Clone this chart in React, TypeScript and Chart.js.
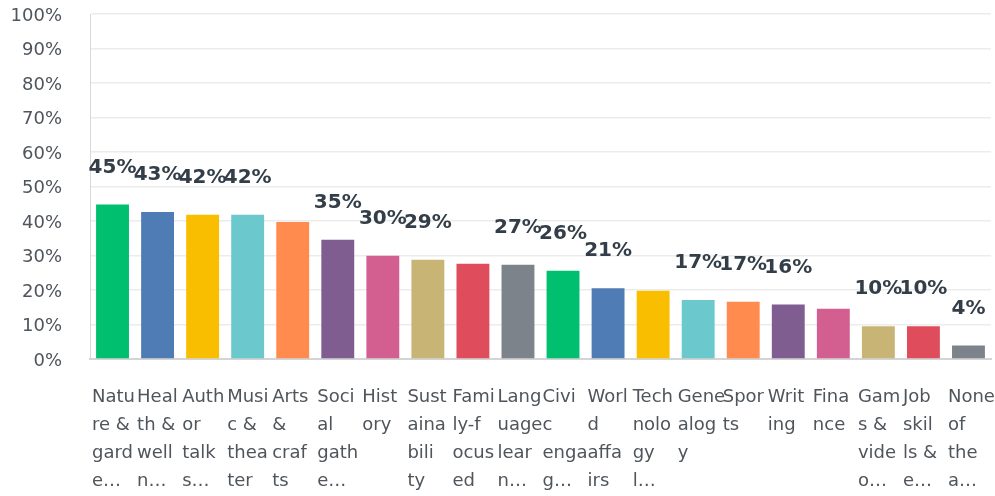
import React, { useEffect, useRef } from 'react';
import { Chart, registerables } from 'chart.js';

Chart.register(...registerables);

const categories = [
  'Nature & gardening', 'Health & wellness', 'Author talks', 'Music & theater', 'Arts & crafts',
  'Social gatherings', 'History', 'Sustainability', 'Family-focused', 'Language learning',
  'Civic engagement', 'World affairs', 'Technology l...', 'Genealogy', 'Sports',
  'Writing', 'Finance', 'Games & video...', 'Job skills & e...', 'None of the above',
];

const tickLines: string[][] = [
  ['Natu', 're &', 'gard', 'e…'],
  ['Heal', 'th &', 'well', 'n…'],
  ['Auth', 'or', 'talk', 's…'],
  ['Musi', 'c &', 'thea', 'ter'],
  ['Arts', '&', 'craf', 'ts'],
  ['Soci', 'al', 'gath', 'e…'],
  ['Hist', 'ory'],
  ['Sust', 'aina', 'bili', 'ty'],
  ['Fami', 'ly-f', 'ocus', 'ed'],
  ['Lang', 'uage', 'lear', 'n…'],
  ['Civi', 'c', 'enga', 'g…'],
  ['Worl', 'd', 'affa', 'irs'],
  ['Tech', 'nolo', 'gy', 'l…'],
  ['Gene', 'alog', 'y'],
  ['Spor', 'ts'],
  ['Writ', 'ing'],
  ['Fina', 'nce'],
  ['Gam', 's &', 'vide', 'o…'],
  ['Job', 'skil', 'ls &', 'e…'],
  ['None', 'of', 'the', 'a…'],
];

const values = [
  44.8, 42.6, 41.8, 41.8, 39.7, 34.6, 29.9, 28.8, 27.6, 27.3,
  25.6, 20.5, 19.8, 17.1, 16.6, 15.8, 14.6, 9.5, 9.5, 3.9,
];

const valueLabels = [
  '45%', '43%', '42%', '42%', '', '35%', '30%', '29%', '', '27%',
  '26%', '21%', '', '17%', '17%', '16%', '', '10%', '10%', '4%',
];

const palette = [
  '#00BF6F', '#507CB6', '#F9BE00', '#6BC8CD', '#FF8B4F',
  '#7F5D90', '#D25F90', '#C8B475', '#DF4D5C', '#7D838B',
];

const yMin = 0;
const yMax = 100;
const yStep = 10;

const barColors = values.map((_, i) => palette[i % palette.length]);

const dataLabelPlugin = {
  id: 'valueLabels',
  afterDatasetsDraw(chart: any) {
    const meta = chart.getDatasetMeta(0);
    const ctx = chart.ctx;
    ctx.save();
    ctx.font = "bold 20px 'DejaVu Sans'";
    ctx.fillStyle = '#333E48';
    ctx.textAlign = 'center';
    ctx.textBaseline = 'middle';
    meta.data.forEach((bar: any, i: number) => {
      const t = valueLabels[i];
      if (t) ctx.fillText(t, bar.x, bar.y - 37);
    });
    ctx.restore();
  },
};

export default function App() {
  const ref = useRef<HTMLCanvasElement | null>(null);

  useEffect(() => {
    if (!ref.current) return;
    const chart = new Chart(ref.current, {
      type: 'bar',
      data: {
        labels: tickLines as any,
        datasets: [
          {
            label: 'Share',
            data: values,
            backgroundColor: barColors,
            borderWidth: 0,
            barPercentage: 0.73,
            categoryPercentage: 1,
          },
        ],
      },
      options: {
        animation: false,
        responsive: true,
        maintainAspectRatio: false,
        layout: { padding: { top: 14, right: 4, bottom: 0, left: 0 } },
        plugins: {
          legend: { display: false },
          tooltip: { enabled: false },
        },
        scales: {
          x: {
            grid: { display: false, drawTicks: false },
            border: { display: true, color: '#D4D4D4', width: 2 },
            ticks: {
              autoSkip: false,
              maxRotation: 0,
              minRotation: 0,
              align: 'start',
              labelOffset: -20.5,
              padding: 24,
              color: '#4F555B',
              font: { family: "'DejaVu Sans'", size: 18, lineHeight: 28 / 18 },
            },
            afterFit: (scale: any) => {
              scale.height = 137;
              scale.paddingLeft = 0;
              scale.paddingRight = 0;
            },
          },
          y: {
            min: yMin,
            max: yMax,
            grid: { color: '#ECECEC', lineWidth: 1.5, drawTicks: false },
            border: { display: true, color: '#D9D9D9', width: 1 },
            ticks: {
              stepSize: yStep,
              padding: 28,
              labelOffset: 2,
              color: '#4F555B',
              font: { family: "'DejaVu Sans'", size: 18 },
              callback: (v: any) => v + '%',
            },
            afterFit: (scale: any) => {
              scale.width = 90;
              scale.paddingTop = 0;
              scale.paddingBottom = 0;
            },
          },
        },
      },
      plugins: [dataLabelPlugin],
    });
    return () => chart.destroy();
  }, []);

  return (
    <div style={{ position: 'absolute', left: 0, top: 0, width: 995, height: 496, background: '#fff' }}>
      <canvas ref={ref} />
    </div>
  );
}
